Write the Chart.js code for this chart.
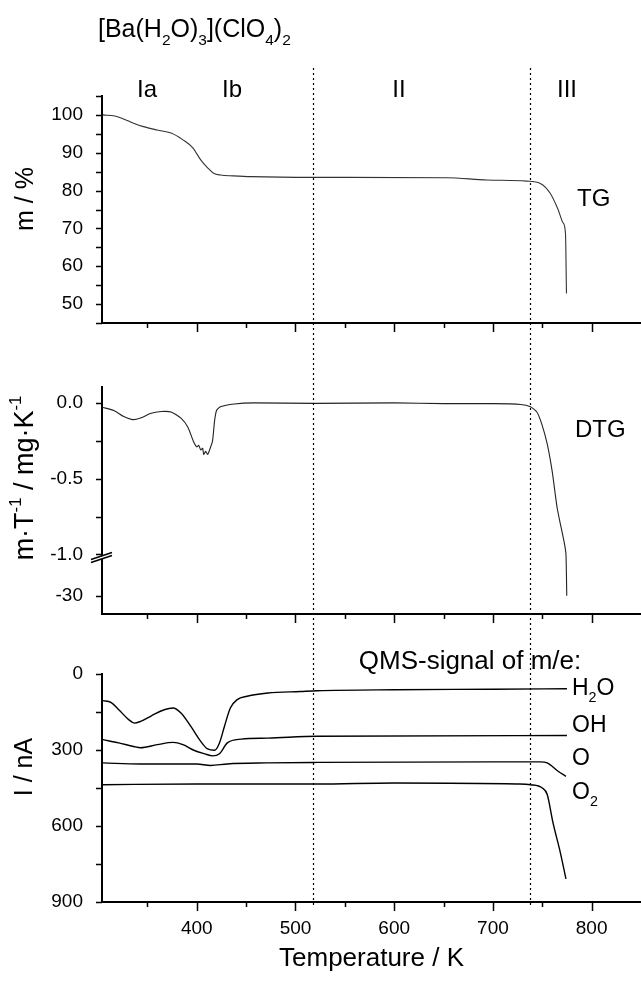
<!DOCTYPE html>
<html><head><meta charset="utf-8">
<script src="https://cdn.jsdelivr.net/npm/chart.js@4.4.1/dist/chart.umd.min.js"></script>
<style>
html,body{margin:0;padding:0;background:#fff;}
#wrap{position:relative;width:641px;height:981px;overflow:hidden;background:#fff;}
canvas{position:absolute;left:0;top:0;}
</style></head><body>
<div id="wrap">
<canvas id="c1" width="641" height="981"></canvas>
<canvas id="c2" width="641" height="981"></canvas>
<canvas id="c3" width="641" height="981"></canvas>
</div>
<script>
// ---------- data ----------
const X_MIN = 304, X_MAX = 850;
const X_TICKS = [400, 500, 600, 700, 800];
const X_MINOR = [350, 450, 550, 650, 750];
const PHASE_BOUNDARIES = [518, 737.5];

const tTG = [305, 317, 327, 336, 346, 360, 374, 386, 396, 404, 411, 417, 424, 437, 455, 518, 552, 653, 694, 734, 748, 758, 766, 771, 773.5, 774.5];
const mTG = [100, 99.7, 98.8, 97.8, 96.9, 96.0, 95.2, 93.4, 91.3, 88.1, 86.0, 84.6, 84.1, 83.9, 83.7, 83.5, 83.5, 83.4, 82.8, 82.5, 81.9, 79.3, 75.0, 71.5, 68.7, 52.8];
const TG_TICKS = [50, 60, 70, 80, 90, 100];

const tDTG = [305, 316, 326, 335, 343, 353, 364, 374, 384, 391, 397, 400, 402, 404, 406, 407, 409, 411, 413, 416, 418, 420, 424, 438, 458, 520, 600, 650, 700, 728, 738, 744.5, 749.5, 755, 760, 765, 769, 772.5, 774, 774.8];
const dDTG = [-0.03, -0.05, -0.09, -0.11, -0.10, -0.07, -0.057, -0.06, -0.10, -0.16, -0.26, -0.29, -0.28, -0.31, -0.30, -0.34, -0.32, -0.34, -0.31, -0.25, -0.12, -0.05, -0.025, -0.007, 0.0, -0.003, 0.0, -0.005, -0.005, -0.01, -0.025, -0.06, -0.14, -0.27, -0.45, -0.69, -0.82, -0.93, -1.0, -30];
const DTG_TICKS = [0, -0.5, -1.0, -30];
const DTG_TICK_LABELS = ['0.0', '-0.5', '-1.0', '-30'];

const tH2O = [305, 313, 321, 331, 337, 343, 354, 367, 376, 384, 394, 404, 411, 418, 423, 428, 434, 441, 451, 472, 505, 522, 600, 700, 775];
const iH2O = [105, 112, 141, 180, 194, 187, 165, 141, 134, 154, 207, 266, 296, 301, 272, 207, 134, 101, 88, 75, 69, 66, 62, 60, 58];
const tOH = [305, 321, 336, 343, 360, 376, 386, 397, 408, 416, 423, 431, 445, 472, 522, 775];
const iOH = [259, 272, 286, 291, 279, 270, 279, 301, 315, 323, 315, 272, 257, 253, 246, 243];
const tO = [305, 343, 400, 414, 431, 471, 522, 700, 748, 755, 766, 774];
const iO = [351, 355, 355, 361, 355, 351, 349, 347, 347, 351, 384, 404];
const tO2 = [305, 400, 522, 600, 724, 738, 750, 755, 761, 768, 774];
const iO2 = [437, 434, 434, 430, 434, 437, 450, 476, 590, 700, 809];
const QMS_TICKS = [0, 300, 600, 900];

// ---------- helpers ----------
const FONT = '"Liberation Sans", Arial, Helvetica, sans-serif';
const pts = (xs, ys, f) => xs.map((x, i) => ({x: x, y: f ? f(ys[i]) : ys[i]}));
// broken DTG axis: values below -1.0 continue on a compressed lower segment
const BREAK_LO = -22, LO_SCALE = 0.034;
const dtgMap = v => v >= -1 ? v : Math.min(-1, -1 + (v - BREAK_LO) * LO_SCALE);

function richText(ctx, x, y, parts, size, align) {
  ctx.save();
  ctx.textBaseline = 'alphabetic';
  ctx.textAlign = 'left';
  ctx.fillStyle = '#000';
  const small = size * 0.62;
  let w = 0;
  const ws = parts.map(p => { ctx.font = (p[1] ? small : size) + 'px ' + FONT; const m = ctx.measureText(p[0]).width; w += m; return m; });
  let cx = align === 'center' ? x - w / 2 : align === 'right' ? x - w : x;
  parts.forEach((p, i) => {
    ctx.font = (p[1] ? small : size) + 'px ' + FONT;
    const dy = p[1] === 'sub' ? size * 0.3 : p[1] === 'sup' ? -size * 0.45 : 0;
    ctx.fillText(p[0], cx, y + dy);
    cx += ws[i];
  });
  ctx.restore();
}
function rotText(ctx, x, y, parts, size) {
  ctx.save(); ctx.translate(x, y); ctx.rotate(-Math.PI / 2);
  richText(ctx, 0, 0, parts, size, 'center');
  ctx.restore();
}
function yTicks(chart, values, len) {
  const ctx = chart.ctx, s = chart.scales.y, L = chart.chartArea.left;
  ctx.save(); ctx.strokeStyle = '#000'; ctx.lineWidth = 1.5; ctx.beginPath();
  values.forEach(v => { const y = Math.round(s.getPixelForValue(v)) + 0.5; ctx.moveTo(L - len, y); ctx.lineTo(L, y); });
  ctx.stroke(); ctx.restore();
}
function xTicks(chart) {
  const ctx = chart.ctx, s = chart.scales.x, B = chart.chartArea.bottom;
  ctx.save(); ctx.strokeStyle = '#000'; ctx.lineWidth = 1.5; ctx.beginPath();
  X_TICKS.forEach(v => { const x = Math.round(s.getPixelForValue(v)) + 0.5; ctx.moveTo(x, B); ctx.lineTo(x, B + 9); });
  X_MINOR.forEach(v => { const x = Math.round(s.getPixelForValue(v)) + 0.5; ctx.moveTo(x, B); ctx.lineTo(x, B + 5); });
  ctx.stroke(); ctx.restore();
}

function makeOptions(padTop, padBottom, xHeight, showX, yCfg) {
  return {
    responsive: false, animation: false, devicePixelRatio: 1,
    layout: {padding: {left: 0, right: 0, top: padTop, bottom: padBottom}},
    plugins: {legend: {display: false}, tooltip: {enabled: false}},
    elements: {point: {radius: 0}, line: {borderColor: '#000', borderWidth: 1.4, cubicInterpolationMode: 'monotone'}},
    scales: {
      x: {
        type: 'linear', min: X_MIN, max: X_MAX,
        grid: {display: false, drawTicks: false},
        border: {display: true, color: '#000', width: 2},
        ticks: {display: showX, color: '#000', font: {family: FONT, size: 19}, padding: 15, maxRotation: 0, autoSkip: false},
        afterBuildTicks: s => { s.ticks = X_TICKS.map(v => ({value: v})); },
        afterFit: s => { s.height = xHeight; }
      },
      y: Object.assign({
        type: 'linear',
        grid: {display: false, drawTicks: false},
        border: {display: true, color: '#000', width: 2},
        afterFit: s => { s.width = 102; }
      }, yCfg)
    }
  };
}
const yTickFont = {family: FONT, size: 19};

// ---------- panel 1: TG ----------
new Chart(document.getElementById('c1'), {
  type: 'line',
  data: {datasets: [{data: pts(tTG, mTG), borderColor: '#333', borderWidth: 1.1}]},
  options: makeOptions(96, 648, 10, false, {
    min: 45, max: 105,
    ticks: {color: '#000', font: yTickFont, padding: 19},
    afterBuildTicks: s => { s.ticks = TG_TICKS.map(v => ({value: v})); }
  }),
  plugins: [{id: 'deco1', afterDraw(chart) {
    const ctx = chart.ctx;
    yTicks(chart, [45, 50, 55, 60, 65, 70, 75, 80, 85, 90, 95, 100, 105], 6);
    xTicks(chart);
    rotText(ctx, 33, 199, [['m / %']], 25);
    richText(ctx, 98, 37, [['[Ba(H'], ['2', 'sub'], ['O)'], ['3', 'sub'], ['](ClO'], ['4', 'sub'], [')'], ['2', 'sub']], 25, 'left');
    richText(ctx, 147, 97, [['Ia']], 24, 'center');
    richText(ctx, 232, 97, [['Ib']], 24, 'center');
    richText(ctx, 399, 97, [['II']], 24, 'center');
    richText(ctx, 567, 97, [['III']], 24, 'center');
    richText(ctx, 577, 206, [['TG']], 24, 'left');
  }}]
});

// ---------- panel 2: DTG (broken axis) ----------
new Chart(document.getElementById('c2'), {
  type: 'line',
  data: {datasets: [{data: pts(tDTG, dDTG, dtgMap), borderColor: '#222', borderWidth: 1.1, cubicInterpolationMode: 'default', tension: 0.2}]},
  options: makeOptions(387, 357, 10, false, {
    min: -1.393, max: 0.105,
    ticks: {color: '#000', font: yTickFont, padding: 19,
      callback: (v, i) => DTG_TICK_LABELS[i]},
    afterBuildTicks: s => { s.ticks = DTG_TICKS.map(v => ({value: dtgMap(v)})); }
  }),
  plugins: [{id: 'deco2', afterDraw(chart) {
    const ctx = chart.ctx;
    yTicks(chart, [0, -0.25, -0.5, -0.75, -1.0, dtgMap(-30)], 6);
    xTicks(chart);
    // axis break marks
    const yb = chart.scales.y.getPixelForValue(-1.0) + 2;
    ctx.save();
    ctx.fillStyle = '#fff';
    ctx.beginPath();
    ctx.moveTo(91, yb + 3); ctx.lineTo(112, yb - 4); ctx.lineTo(112, yb - 1); ctx.lineTo(91, yb + 6); ctx.closePath(); ctx.fill();
    ctx.strokeStyle = '#000'; ctx.lineWidth = 1.5;
    ctx.beginPath();
    ctx.moveTo(91, yb + 3); ctx.lineTo(112, yb - 4);
    ctx.moveTo(91, yb + 6); ctx.lineTo(112, yb - 1);
    ctx.stroke();
    ctx.restore();
    rotText(ctx, 33, 478, [['m'], ['\u00B7T'], ['-1', 'sup'], [' / mg\u00B7K'], ['-1', 'sup']], 27);
    richText(ctx, 575, 437, [['DTG']], 24, 'left');
  }}]
});

// ---------- panel 3: QMS ----------
new Chart(document.getElementById('c3'), {
  type: 'line',
  data: {datasets: [
    {label: 'H2O', data: pts(tH2O, iH2O)},
    {label: 'OH', data: pts(tOH, iOH)},
    {label: 'O', data: pts(tO, iO)},
    {label: 'O2', data: pts(tO2, iO2)}
  ]},
  options: makeOptions(674, 19, 60, true, {
    min: 0, max: 900, reverse: true,
    ticks: {color: '#000', font: yTickFont, padding: 19},
    afterBuildTicks: s => { s.ticks = QMS_TICKS.map(v => ({value: v})); }
  }),
  plugins: [{id: 'deco3', afterDraw(chart) {
    const ctx = chart.ctx;
    yTicks(chart, [0, 150, 300, 450, 600, 750, 900], 6);
    xTicks(chart);
    // phase boundaries (dotted) across all panels
    ctx.save();
    ctx.strokeStyle = '#000'; ctx.lineWidth = 1.2; ctx.setLineDash([2, 3]);
    ctx.beginPath();
    PHASE_BOUNDARIES.forEach(v => { const x = Math.round(chart.scales.x.getPixelForValue(v)) + 0.5; ctx.moveTo(x, 68); ctx.lineTo(x, 907); });
    ctx.stroke();
    ctx.restore();
    rotText(ctx, 32, 767, [['I / nA']], 25);
    richText(ctx, 371.5, 966, [['Temperature / K']], 26, 'center');
    richText(ctx, 470, 669, [['QMS-signal of m/e:']], 26, 'center');
    richText(ctx, 572, 695, [['H'], ['2', 'sub'], ['O']], 23, 'left');
    richText(ctx, 572, 732, [['OH']], 23, 'left');
    richText(ctx, 572, 765, [['O']], 23, 'left');
    richText(ctx, 572, 799, [['O'], ['2', 'sub']], 23, 'left');
  }}]
});
</script>
</body></html>
